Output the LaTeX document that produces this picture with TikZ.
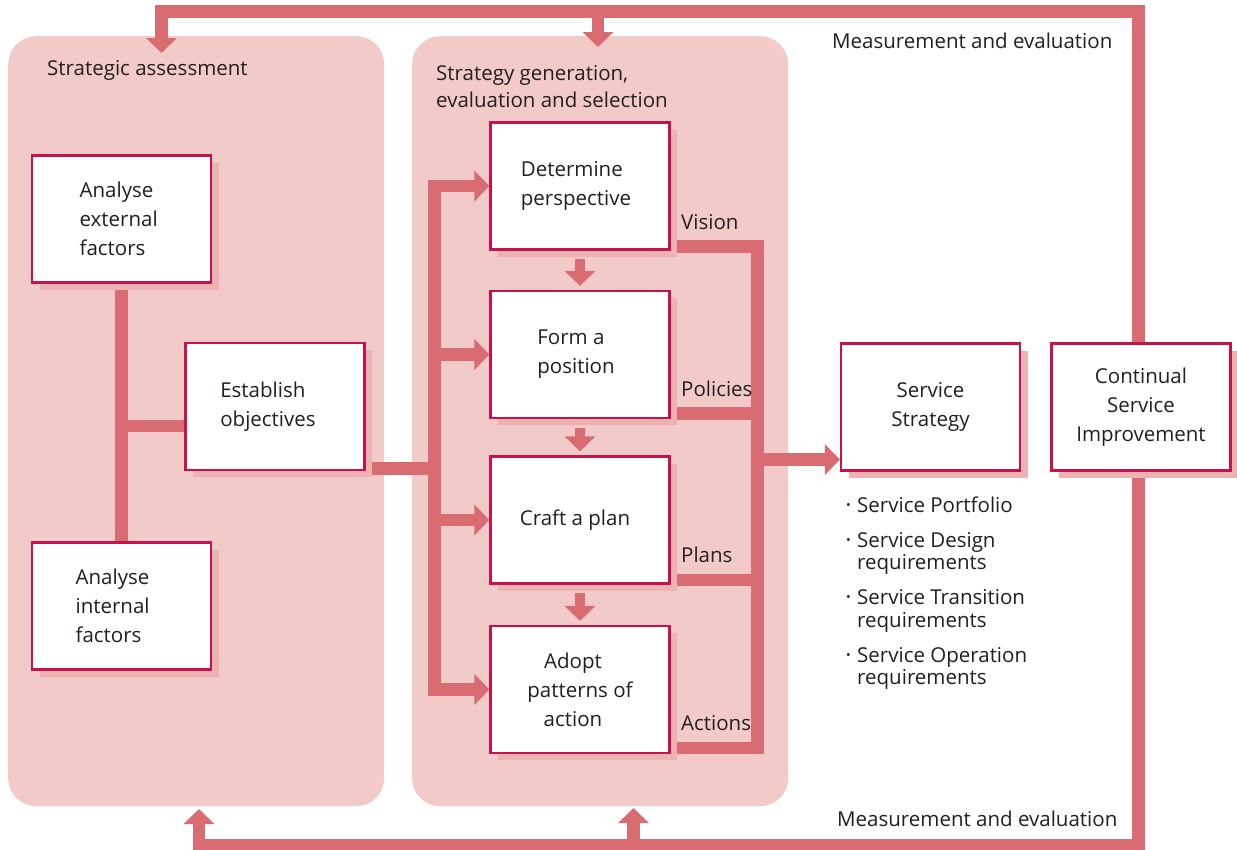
\documentclass[tikz,border=0pt]{standalone}
\usepackage{fontspec}
\setmainfont{Open Sans}
\usepackage{graphicx}
\usetikzlibrary{arrows.meta,shadows,calc}
\definecolor{lineC}{HTML}{D96B73}
\definecolor{panelC}{HTML}{F2CBC9}
\definecolor{boxC}{HTML}{C8124B}
\definecolor{shadC}{HTML}{EDB3B3}
\definecolor{txtC}{HTML}{231F20}
\newcommand\mybul{\makebox[11pt][l]{\raisebox{3pt}{\scalebox{0.6}{•}}}}
\newcommand\pd[1]{\hspace*{#1}}
\pgfdeclarelayer{panels}
\pgfdeclarelayer{lines}
\pgfsetlayers{panels,lines,main}
\begin{document}
\begin{tikzpicture}[x=1pt,y=-1pt,
  txt/.style={text=txtC, font=\fontsize{20.5}{29}\selectfont, inner sep=0pt},
  panel/.style={fill=panelC, draw=none, rounded corners=28pt, minimum width=376pt, minimum height=770pt, anchor=north west, inner sep=0pt},
  stepbox/.style={txt, draw=boxC, line width=2.2pt, fill=white, minimum width=179pt, minimum height=127pt,
    drop shadow={shadow xshift=7.5pt, shadow yshift=-7pt, fill=shadC, opacity=1}},
  conn/.style={draw=lineC, line width=12.5pt, line join=miter},
  thinconn/.style={draw=lineC, line width=10pt},
  arrowtip/.style={-{Triangle[length=15pt,width=30pt]}},
  bitip/.style={{Triangle[length=15pt,width=30pt]}-{Triangle[length=15pt,width=30pt]}},
]
\useasboundingbox (0,0) rectangle (1237,849);

% panels
\begin{pgfonlayer}{panels}
\node[panel] (pA) at (8,36) {};
\node[panel] (pB) at (412,36) {};
\end{pgfonlayer}
\node[txt, anchor=base west] (tA) at (47,75) {Strategic assessment};
\node[txt, anchor=north west, align=left, font=\fontsize{20.5}{27}\selectfont] (tB) at (436,65.5) {Strategy generation,\\evaluation and selection};

% coordinates
\coordinate (tl) at (161.5,11.5);
\coordinate (tr) at (1138.5,11.5);
\coordinate (br) at (1138.5,845);
\coordinate (bl) at (199,845);
\coordinate (fa1) at (161.5,53);
\coordinate (fb1) at (199,809);
\coordinate (ta2) at (598,11.5);
\coordinate (fa2) at (598,47);
\coordinate (ba2) at (633.5,845);
\coordinate (fb2) at (633.5,808);
\coordinate (lbus) at (434.5,0);
\coordinate (rbus) at (757.5,0);

% boxes
\node[stepbox, align=left] (ext) at (121.5,219) {Analyse\pd{10pt}\\external\pd{10pt}\\factors};
\node[stepbox, align=left] (int) at (121.5,606) {Analyse\pd{18pt}\\internal\\factors};
\node[stepbox, align=left] (obj) at (275,406.5) {Establish\\objectives\pd{14pt}};
\node[stepbox, align=left] (det) at (580,186) {Determine\\perspective\pd{8pt}};
\node[stepbox, align=left] (form) at (580,354.5) {Form a\\position\pd{8pt}};
\node[stepbox, align=center] (craft) at (580,520) {Craft a plan\pd{10pt}};
\node[stepbox, align=center] (adopt) at (580,689.5) {Adopt\pd{14pt}\\patterns of\pd{14pt}\\action\pd{14pt}};
\node[stepbox, align=center] (ss) at (930.5,407) {Service\\Strategy};
\node[stepbox, align=center] (csi) at (1141,407) {Continual\\Service\\Improvement};

% connectors (behind boxes)
\begin{pgfonlayer}{lines}
\draw[conn, bitip] (fa1) -- (tl) -- (tr) -- (br) -- (bl) -- (fb1);
\draw[conn, arrowtip] (ta2) -- (fa2);
\draw[conn, arrowtip] (ba2) -- (fb2);
% left panel
\draw[conn] (ext.south) -- (int.north);
\coordinate (objin) at ([yshift=-19.5pt]obj.west);
\draw[conn] (objin -| ext.south) -- (objin);
\coordinate (objout) at ([yshift=2.5pt]obj.south east);
\draw[conn] (objout) -- (objout -| lbus);
% left bus with arrows
\draw[conn, bitip] (det.west) -- (lbus |- det.west) -- (lbus |- adopt.west) -- (adopt.west);
\draw[conn, arrowtip] (lbus |- form.west) -- (form.west);
\draw[conn, arrowtip] (lbus |- craft.west) -- (craft.west);
% right collector
\coordinate (vis) at ([yshift=4pt]det.south east);
\coordinate (pol) at ([yshift=5.5pt]form.south east);
\coordinate (pla) at ([yshift=4.5pt]craft.south east);
\coordinate (act) at ([yshift=6pt]adopt.south east);
\draw[conn] (vis) -- (vis -| rbus) -- (act -| rbus) -- (act);
\draw[conn] (pol) -- (pol -| rbus);
\draw[conn] (pla) -- (pla -| rbus);
\coordinate (ssin) at ([yshift=12pt]ss.south west);
\draw[conn, arrowtip] (ssin -| rbus) -- (ssin);
\end{pgfonlayer}

% down arrows between strategy boxes
\draw[thinconn, arrowtip] ([yshift=-8.5pt]det.south) -- ([yshift=4pt]form.north);
\draw[thinconn, arrowtip] ([yshift=-8.5pt]form.south) -- ([yshift=4pt]craft.north);
\draw[thinconn, arrowtip] ([yshift=-8.5pt]craft.south) -- ([yshift=4pt]adopt.north);

% labels
\node[txt, anchor=base west] (lv) at (681,229) {Vision};
\node[txt, anchor=base west] (lp) at (681,396) {Policies};
\node[txt, anchor=base west] (lpl) at (681,562) {Plans};
\node[txt, anchor=base west] (la) at (681,730) {Actions};
\node[txt, anchor=base west] (me1) at (832,48) {Measurement and evaluation};
\node[txt, anchor=base west] (me2) at (837,826) {Measurement and evaluation};

% bullet list
\node[txt, anchor=north west, align=left, font=\fontsize{20.5}{22.5}\selectfont] (bl1) at (846,496.5)
 {\mybul Service Portfolio\\[12.5pt]
  \mybul Service Design\\ \hspace*{11pt}requirements\\[12.5pt]
  \mybul Service Transition\\ \hspace*{11pt}requirements\\[12.5pt]
  \mybul Service Operation\\ \hspace*{11pt}requirements};
\end{tikzpicture}
\end{document}
